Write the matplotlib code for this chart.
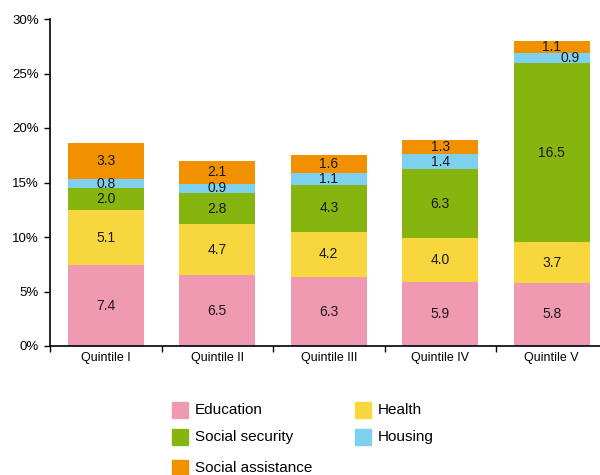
import matplotlib
matplotlib.use("Agg")
import matplotlib.pyplot as plt
from matplotlib.patches import Rectangle
import numpy as np

plt.rcParams['font.family'] = ['Liberation Sans', 'DejaVu Sans']

categories = ["Quintile I", "Quintile II", "Quintile III", "Quintile IV", "Quintile V"]
series_names = ["Education", "Health", "Social security", "Housing", "Social assistance"]
education = [7.4, 6.5, 6.3, 5.9, 5.8]
health = [5.1, 4.7, 4.2, 4.0, 3.7]
social_security = [2.0, 2.8, 4.3, 6.3, 16.5]
housing = [0.8, 0.9, 1.1, 1.4, 0.9]
social_assistance = [3.3, 2.1, 1.6, 1.3, 1.1]
y_ticks = [0, 5, 10, 15, 20, 25, 30]

colors = ["#F09AB2", "#F8D73E", "#86B510", "#7DD0EE", "#F29100"]
series = [education, health, social_security, housing, social_assistance]

W, H = 600, 475
fig = plt.figure(figsize=(W / 100, H / 100), dpi=100)
ax = fig.add_axes([50 / W, (H - 346) / H, 557.5 / W, 327 / H])

x = np.arange(len(categories))
bottom = np.zeros(len(categories))
for name, vals, col in zip(series_names, series, colors):
    vals = np.array(vals)
    ax.bar(x, vals, width=0.68, bottom=bottom, color=col, label=name, zorder=2)
    for i, (v, b) in enumerate(zip(vals, bottom)):
        dx = 0.0
        # the thin housing band on the tallest bar gets its label nudged right
        if name == "Housing" and i == len(categories) - 1:
            dx = 0.16
        ax.text(x[i] + dx, b + v / 2, f"{v:.1f}", ha="center", va="center",
                fontsize=10, color="#1a1a1a", zorder=3)
    bottom += vals

ax.set_xlim(-0.5, len(categories) - 0.5)
ax.set_ylim(0, 30)
ax.set_yticks(y_ticks)
ax.set_yticklabels([f"{t}%" for t in y_ticks], fontsize=9.5)
ax.set_xticks(x)
ax.set_xticklabels(categories, fontsize=9)
ax.tick_params(axis="x", length=0, pad=4)
ax.set_xticks(np.arange(len(categories) + 1) - 0.5, minor=True)
ax.tick_params(axis="x", which="minor", length=4, width=1, direction="out")
ax.tick_params(axis="y", length=4, width=1, direction="out", pad=4)
for s in ["top", "right"]:
    ax.spines[s].set_visible(False)
for s in ["left", "bottom"]:
    ax.spines[s].set_linewidth(1.2)
    ax.spines[s].set_color("black")

# legend laid out in two columns below the plot
legend_slots = [(172, 410), (355, 410), (172, 437), (355, 437), (172, 468)]
for name, col, (lx, ly) in zip(series_names, colors, legend_slots):
    fig.patches.append(Rectangle((lx / W, (H - ly - 8) / H), 16 / W, 16 / H,
                                 transform=fig.transFigure, color=col, figure=fig))
    fig.text((lx + 23) / W, (H - ly) / H, name, fontsize=11, va="center", ha="left")

fig.savefig("out.png", dpi=100)
